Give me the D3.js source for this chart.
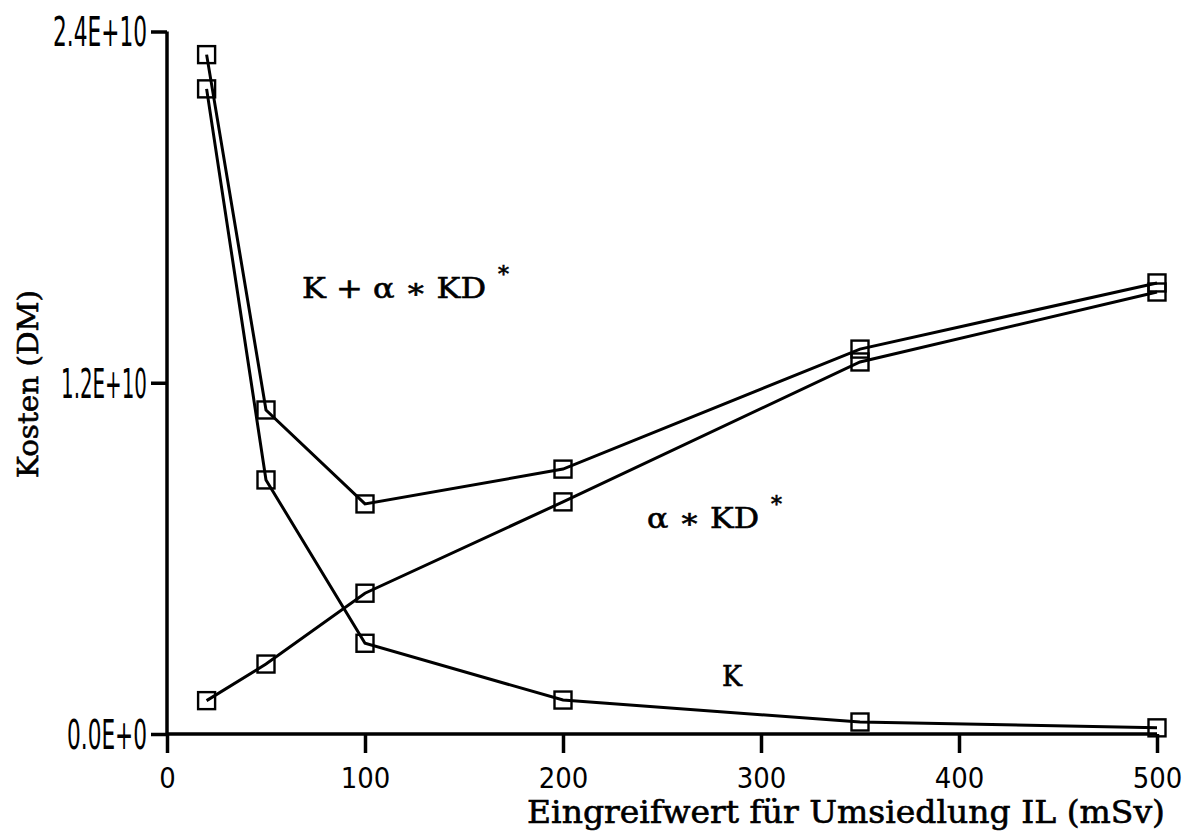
<!DOCTYPE html>
<html>
<head>
<meta charset="utf-8">
<script src="https://cdn.jsdelivr.net/npm/d3@7"></script>
<style>
  body { margin: 0; background: #fff; }
  .serif { font-family: "DejaVu Serif", "Liberation Serif", serif; stroke: #000; stroke-width: 0.6px; }
</style>
</head>
<body>
<div id="chart"></div>
<script>
// DATA ------------------------------
const limits = [20, 50, 100, 200, 350, 500];
const costK = [2.204e10, 0.868e10, 0.310e10, 0.116e10, 0.041e10, 0.021e10];
const costAlphaKD = [0.114e10, 0.239e10, 0.481e10, 0.793e10, 1.271e10, 1.510e10];
const costTotal = [2.321e10, 1.107e10, 0.786e10, 0.905e10, 1.315e10, 1.541e10];
const xTicks = [0, 100, 200, 300, 400, 500];
const yTicks = [0, 1.2e10, 2.4e10];
const yTickLabels = ["0.0E+0", "1.2E+10", "2.4E+10"];

// CHART INIT ------------------------------
const W = 1191, H = 838;
const margin = ({top: 31.5, right: 34, bottom: 104, left: 167});
const width = W - margin.left - margin.right;
const height = H - margin.top - margin.bottom;
const narrow = '"Liberation Sans Narrow", "DejaVu Sans Condensed", sans-serif';

let svg = d3.select('#chart').append('svg')
  .attr('width', W)
  .attr('height', H)
  .append('g')
  .attr("transform", "translate(" + margin.left + "," + margin.top + ")");

let xScale = d3.scaleLinear().domain([0, 500]).range([0, width]);
let yScale = d3.scaleLinear().domain([0, 2.4e10]).range([height, 0]);

// axes
let xAxis = d3.axisBottom(xScale).tickValues(xTicks).tickSize(19).tickPadding(14).tickFormat(d3.format("d"));
let yAxis = d3.axisLeft(yScale).tickValues(yTicks).tickSize(16).tickPadding(4)
  .tickFormat((d, i) => yTickLabels[i]);

let xAxisGroup = svg.append("g").attr("class", "x-axis")
  .attr("transform", "translate(0," + height + ")")
  .call(xAxis);
let yAxisGroup = svg.append("g").attr("class", "y-axis").call(yAxis);

[xAxisGroup, yAxisGroup].forEach(g => {
  g.attr("font-family", narrow).attr("font-size", null)
  g.select(".domain").attr("stroke", "#000").attr("stroke-width", 3.5)
  g.selectAll(".tick line").attr("stroke", "#000").attr("stroke-width", 3.5)
  g.selectAll(".tick text").attr("fill", "#000")
});
xAxisGroup.select(".domain").attr("d", "M0,0H" + width);
yAxisGroup.select(".domain").attr("d", "M0,0V" + height);
xAxisGroup.selectAll(".tick text")
  .style("font-size", "29px")
  .attr("textLength", d => String(d).length * 16.5)
  .attr("lengthAdjust", "spacingAndGlyphs");
yAxisGroup.selectAll(".tick text")
  .style("font-size", "40px")
  .attr("textLength", (d, i) => [80, 86, 94][i])
  .attr("lengthAdjust", "spacingAndGlyphs")
  .attr("dy", "0.36em");

// series
const series = [costK, costAlphaKD, costTotal];
const line = d3.line()
  .x((d, i) => xScale(limits[i]))
  .y(d => yScale(d));

series.forEach(vals => {
  svg.append("path")
    .datum(vals)
    .attr("fill", "none")
    .attr("stroke", "#000")
    .attr("stroke-width", 3)
    .attr("d", line);
  svg.selectAll(null)
    .data(vals)
    .enter()
    .append("rect")
    .attr("x", (d, i) => xScale(limits[i]) - 8.5)
    .attr("y", d => yScale(d) - 8.5)
    .attr("width", 17)
    .attr("height", 17)
    .attr("fill", "none")
    .attr("stroke", "#000")
    .attr("stroke-width", 2.4);
});

// axis titles
svg.append("text")
  .attr("class", "serif")
  .attr("x", 1165 - margin.left)
  .attr("y", 823 - margin.top)
  .attr("text-anchor", "end")
  .attr("font-size", 31)
  .attr("textLength", 638)
  .attr("lengthAdjust", "spacingAndGlyphs")
  .text("Eingreifwert für Umsiedlung IL (mSv)");

svg.append("text")
  .attr("class", "serif")
  .attr("transform", "translate(" + (38 - margin.left) + "," + (384 - margin.top) + ") rotate(-90)")
  .attr("text-anchor", "middle")
  .attr("font-size", 28)
  .attr("textLength", 188)
  .attr("lengthAdjust", "spacingAndGlyphs")
  .text("Kosten (DM)");

// curve labels
function curveLabel(x, y, main, len) {
  const t = svg.append("text")
    .attr("class", "serif")
    .attr("x", x - margin.left)
    .attr("y", y - margin.top)
    .attr("font-size", 28);
  t.append("tspan").text(main).attr("textLength", len).attr("lengthAdjust", "spacingAndGlyphs");
  if (main !== "K") {
    t.append("tspan").attr("dx", 12).attr("dy", -16).attr("font-size", 22).text("*");
  }
}
curveLabel(302, 298, "K + α ∗ KD", 184);
curveLabel(647, 528, "α ∗ KD", 112);
curveLabel(722, 686, "K", 20);
</script>
</body>
</html>
